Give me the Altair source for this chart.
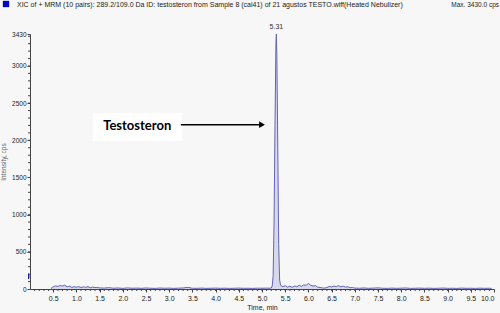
import altair as alt
import pandas as pd

# ---- data ----
times = [0.45, 0.50, 0.55, 0.60, 0.65, 0.70, 0.75, 0.80, 0.85, 0.90, 0.95, 1.00, 1.05, 1.10, 1.15, 1.20,
         1.25, 1.30, 1.35, 1.40, 1.45, 1.50,
         1.6, 1.7, 1.8, 1.9, 2.0, 2.1, 2.2, 2.3, 2.4, 2.5, 2.6, 2.7, 2.8, 2.9, 3.0, 3.1, 3.2, 3.3, 3.4,
         3.5, 3.6, 3.7, 3.8, 3.9, 4.0, 4.1, 4.2, 4.3, 4.4, 4.5, 4.6, 4.7, 4.8, 4.9, 5.0, 5.1, 5.15, 5.2,
         5.22, 5.24, 5.26, 5.28, 5.30, 5.31, 5.32, 5.34, 5.36, 5.38, 5.40,
         5.45, 5.50, 5.55, 5.60, 5.65, 5.70, 5.75, 5.80, 5.85, 5.90, 5.95, 6.00, 6.05, 6.10, 6.15, 6.20,
         6.25, 6.30, 6.35, 6.40, 6.45, 6.50, 6.55, 6.60, 6.65, 6.70, 6.75, 6.80, 6.85, 6.90, 6.95,
         7.0, 7.1, 7.2, 7.3, 7.4, 7.5, 7.6, 7.7, 7.8, 7.9, 8.0, 8.1, 8.2, 8.3, 8.4, 8.5, 8.6, 8.7, 8.8,
         8.9, 9.0, 9.1, 9.2, 9.3, 9.4, 9.5, 9.6, 9.7, 9.8, 9.9, 9.95]
intensity = [5, 30, 42, 35, 48, 40, 52, 30, 38, 22, 30, 25, 32, 20, 28, 24,
             30, 18, 25, 20, 22, 15,
             12, 18, 10, 14, 8, 15, 10, 12, 9, 14, 10, 8, 13, 10, 12, 8, 11, 14, 22,
             10, 9, 12, 8, 10, 12, 9, 11, 8, 10, 12, 9, 10, 8, 11, 10, 12, 10, 14,
             40, 180, 900, 2200, 3300, 3430, 3150, 1900, 600, 120, 50,
             30, 45, 25, 38, 22, 40, 30, 50, 35, 55, 50, 75, 50, 40, 45, 25,
             20, 15, 12, 20, 35, 28, 40, 32, 45, 30, 38, 25, 30, 18, 20,
             12, 10, 14, 9, 12, 15, 10, 8, 12, 9, 11, 14, 8, 10, 12, 9, 11, 8, 10,
             13, 9, 10, 8, 12, 9, 10, 8, 11, 9, 10, 8]

x_major = [0.5, 1.0, 1.5, 2.0, 2.5, 3.0, 3.5, 4.0, 4.5, 5.0, 5.5, 6.0, 6.5, 7.0, 7.5, 8.0, 8.5, 9.0, 9.5, 10.0]
y_major = [0, 500, 1000, 1500, 2000, 2500, 3000, 3430]
x_minor = [round(i / 10, 1) for i in range(1, 100)]
y_minor = [i * 100 for i in range(1, 35)]

peak_time = [5.31]
peak_int = [3430]
peak_label = ["5.31"]

title_text = "XIC of + MRM (10 pairs): 289.2/109.0 Da ID: testosteron from Sample 8 (cal41) of 21 agustos TESTO.wiff(Heated Nebulizer)"
max_text = "Max. 3430.0 cps"

annot_label = "Testosteron"
annot_x, annot_y = 2.31, 2190
box_x, box_x2, box_y, box_y2 = 1.36, 3.28, 1990, 2367
arrow_x, arrow_x2, arrow_y = 3.25, 5.0, 2210

W, H = 464, 255
xscale = alt.Scale(domain=[0, 10], nice=False)
yscale = alt.Scale(domain=[0, 3430], nice=False)

trace = pd.DataFrame({"t": times, "v": intensity})

base_font = "Liberation Sans"

xaxis = alt.Axis(
    values=x_major, format=".1f", title="Time, min", grid=False, tickSize=3,
    labelOverlap=False, labelFontSize=7, titleFontSize=7, titleFontWeight="normal",
    labelFont=base_font, titleFont=base_font, domainColor="#444", tickColor="#444",
    labelColor="#222", titleColor="#222", titlePadding=2, labelPadding=2)
yaxis = alt.Axis(
    values=y_major, format="d", title="Intensity, cps", grid=False, tickSize=3,
    labelOverlap=False, labelFontSize=6.5, titleFontSize=6.5, titleFontWeight="normal",
    labelFont=base_font, titleFont=base_font, domainColor="#444", tickColor="#444",
    labelColor="#222", titleColor="#666", titleX=-24, labelPadding=1)


def X(field):
    return alt.X(field, scale=xscale, axis=xaxis)


def Y(field):
    return alt.Y(field, scale=yscale, axis=yaxis)


area = alt.Chart(trace).mark_area(
    color="#cacae8", line={"color": "#6464b4", "strokeWidth": 1}, interpolate="linear"
).encode(x=X("t:Q"), y=Y("v:Q"))

xminor = alt.Chart(pd.DataFrame({"t": x_minor})).mark_rule(color="#444", strokeWidth=1).encode(
    x=X("t:Q"), y=alt.value(H), y2=alt.value(H + 2))
yminor = alt.Chart(pd.DataFrame({"v": y_minor})).mark_rule(color="#444", strokeWidth=1).encode(
    y=Y("v:Q"), x=alt.value(-2), x2=alt.value(0))

peak_txt = alt.Chart(pd.DataFrame({"t": peak_time, "v": peak_int, "l": peak_label})).mark_text(
    fontSize=7, font=base_font, color="#333", dy=-7).encode(
    x=X("t:Q"), y=Y("v:Q"), text="l:N")

box = alt.Chart(pd.DataFrame({"a": [box_x], "b": [box_x2], "c": [box_y], "d": [box_y2]})).mark_rect(
    color="white").encode(
    x=X("a:Q"), x2="b:Q", y=Y("c:Q"), y2="d:Q")

label = alt.Chart(pd.DataFrame({"t": [annot_x], "v": [annot_y], "l": [annot_label]})).mark_text(
    fontSize=13, font="Lato", fontWeight="bold", color="black").encode(
    x=X("t:Q"), y=Y("v:Q"), text="l:N")

arrow = alt.Chart(pd.DataFrame({"a": [arrow_x], "b": [arrow_x2], "v": [arrow_y]})).mark_rule(
    color="black", strokeWidth=1.5).encode(
    x=X("a:Q"), x2="b:Q", y=Y("v:Q"))

head = alt.Chart(pd.DataFrame({"t": [arrow_x2], "v": [arrow_y]})).mark_point(
    shape="triangle-right", filled=True, color="black", size=45, opacity=1).encode(
    x=X("t:Q"), y=Y("v:Q"))

marker = alt.Chart(pd.DataFrame({"v": [170]})).mark_point(
    shape="M0,-1L0.45,-0.6L0.45,0.6L0,1Z", filled=True, color="#1a1aa0", size=40, opacity=1).encode(
    y=Y("v:Q"), x=alt.value(-2))

hdr = alt.Chart(pd.DataFrame({"l": [title_text]})).mark_text(
    align="left", baseline="middle", fontSize=7, font=base_font, color="#222").encode(
    x=alt.value(-13), y=alt.value(-29), text="l:N")
hdr_max = alt.Chart(pd.DataFrame({"l": [max_text]})).mark_text(
    align="right", baseline="middle", fontSize=6.5, font=base_font, color="#222").encode(
    x=alt.value(469), y=alt.value(-29), text="l:N")
sq = alt.Chart(pd.DataFrame({"l": ["s"]})).mark_square(
    color="#0000c8", size=40, opacity=1).encode(x=alt.value(-24), y=alt.value(-30))

chart = alt.layer(area, xminor, yminor, peak_txt, box, arrow, head, label, marker, hdr, hdr_max, sq).properties(
    width=W, height=H, background="#f7f7f7",
    autosize=alt.AutoSizeParams(type="none"),
    padding={"left": 30, "top": 34, "right": 6, "bottom": 24},
).configure_view(stroke=None).configure_axis(labelOverlap=False)

chart.save("out.html", embed_options={"renderer": "svg", "actions": False})
